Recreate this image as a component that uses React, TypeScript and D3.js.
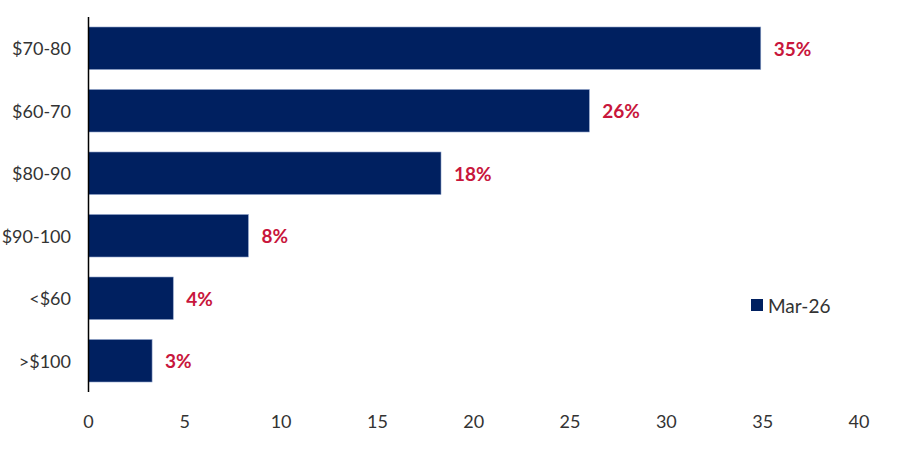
import React from "react";
import * as d3 from "d3";

const categories = ["$70-80", "$60-70", "$80-90", "$90-100", "<$60", ">$100"];
const values = [34.9, 26.0, 18.3, 8.3, 4.4, 3.3];
const xTicks = [0, 5, 10, 15, 20, 25, 30, 35, 40];
const seriesName = "Mar-26";

const W = 900;
const H = 449;
const FONT = "Lato, 'Open Sans', sans-serif";
const BAR = "#002060";
const RED = "#C8163C";
const TEXT = "#333333";

export default function App() {
  const x = d3.scaleLinear().domain([0, 40]).range([88.5, 859]);
  const y = d3
    .scaleBand<string>()
    .domain(categories)
    .range([17, 392])
    .paddingInner(0.32)
    .paddingOuter(0.16);
  const fmt = (v: number) => `${Math.round(v)}%`;

  return (
    <svg
      width={W}
      height={H}
      style={{ position: "absolute", left: 0, top: 0, background: "#fff" }}
      fontFamily={FONT}
    >
      {categories.map((c, i) => {
        const y0 = y(c) ?? 0;
        const bw = y.bandwidth();
        return (
          <g key={c}>
            <rect
              x={x(0)}
              y={y0}
              width={x(values[i]) - x(0)}
              height={bw}
              fill={BAR}
              stroke="#8da0c8"
              strokeWidth={0.6}
            />
            <text
              x={x(values[i]) + 13}
              y={y0 + bw / 2}
              dominantBaseline="central"
              fontSize={19}
              fontWeight="bold"
              fill={RED}
            >
              {fmt(values[i])}
            </text>
            <text
              x={71}
              y={y0 + bw / 2}
              dominantBaseline="central"
              textAnchor="end"
              fontSize={18}
              fill={TEXT}
            >
              {c}
            </text>
          </g>
        );
      })}
      <line x1={88.5} x2={88.5} y1={17} y2={392} stroke="#000" strokeWidth={1.5} />
      {xTicks.map((t) => (
        <text key={t} x={x(t)} y={421} dominantBaseline="central" textAnchor="middle" fontSize={18} fill={TEXT}>
          {t}
        </text>
      ))}
      <rect x={751} y={299} width={12} height={12} fill={BAR} />
      <text x={768} y={305} dominantBaseline="central" fontSize={19} fill={TEXT}>
        {seriesName}
      </text>
    </svg>
  );
}
